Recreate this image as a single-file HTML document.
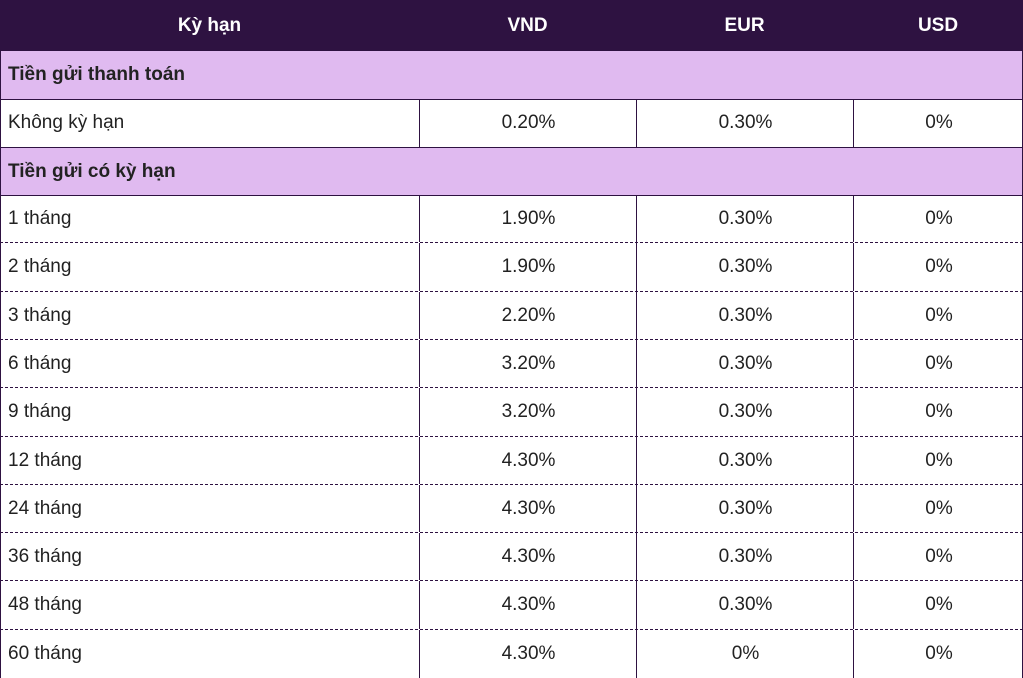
<!DOCTYPE html>
<html><head><meta charset="utf-8"><style>
body{margin:0;width:1023px;height:675px;overflow:hidden;background:#fff;font-family:"Liberation Sans",Arial,sans-serif;font-size:19px;color:#222}
.r{position:absolute;left:0;width:1023px;box-sizing:border-box}
.h{top:0;height:51px;background:#2e1241;color:#fff;font-weight:bold}
.s{background:#e0baf0;font-weight:bold;border-bottom:1px solid #2e1241;border-left:1px solid #2e1241;border-right:1px solid #2e1241}
.s span{position:absolute;left:7px;top:13px}
.c{position:absolute;top:0;height:100%;display:flex;align-items:center;justify-content:center}
.d{border-left:1px solid #2e1241;border-right:1px solid #2e1241}
.v{position:absolute;top:0;bottom:0;width:1px;background:#2e1241}
</style></head><body>
<div class="r h"><div class="c" style="left:0;width:419px">Kỳ hạn</div><div class="c" style="left:419px;width:217px">VND</div><div class="c" style="left:636px;width:217px">EUR</div><div class="c" style="left:853px;width:170px">USD</div></div>
<div class="r s" style="top:51px;height:49px"><span>Tiền gửi thanh toán</span></div>
<div id="rows"></div>
<script>
var data=[["Không kỳ hạn","0.20%","0.30%","0%"],["SEC","","",""],
["1 tháng","1.90%","0.30%","0%"],["2 tháng","1.90%","0.30%","0%"],["3 tháng","2.20%","0.30%","0%"],["6 tháng","3.20%","0.30%","0%"],["9 tháng","3.20%","0.30%","0%"],["12 tháng","4.30%","0.30%","0%"],["24 tháng","4.30%","0.30%","0%"],["36 tháng","4.30%","0.30%","0%"],["48 tháng","4.30%","0.30%","0%"],["60 tháng","4.30%","0%","0%"]];
var h="",y=195,step=48.3;
data.forEach(function(d,i){
 var t,b;
 if(i==0){t=99;b=148}else if(i==1){t=148;b=196}else{t=y;b=y+step;y=b}
 if(d[0]=="SEC"){h+='<div class="r s" style="top:'+t+'px;height:'+(b-t)+'px"><span>Tiền gửi có kỳ hạn</span></div>';return}
 var bb=i==0?"border-bottom:1px solid #2e1241":(i==data.length-1?"":"border-bottom:1px dashed #2e1241");
 h+='<div class="r d" style="top:'+Math.round(t)+'px;height:'+(Math.round(b)-Math.round(t))+'px;'+bb+'">'+
 '<div class="c" style="left:7px;justify-content:flex-start">'+d[0]+'</div>'+
 '<div class="v" style="left:418px"></div><div class="v" style="left:635px"></div><div class="v" style="left:852px"></div>'+
 '<div class="c" style="left:419px;width:217px">'+d[1]+'</div><div class="c" style="left:636px;width:217px">'+d[2]+'</div><div class="c" style="left:853px;width:170px">'+d[3]+'</div></div>';
});
document.getElementById("rows").innerHTML=h;
</script>
</body></html>
